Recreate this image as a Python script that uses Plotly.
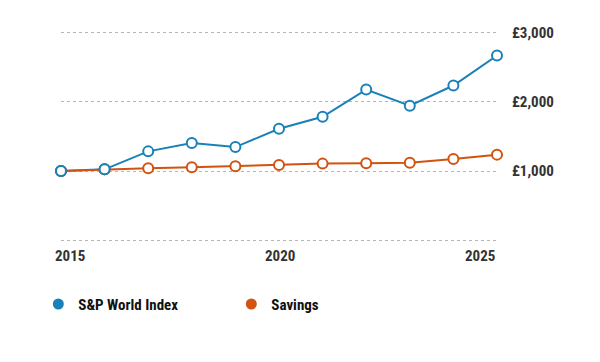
import plotly.graph_objects as go

years = [2015, 2016, 2017, 2018, 2019, 2020, 2021, 2022, 2023, 2024, 2025]
sp_world = [1000, 1025, 1285, 1405, 1347, 1612, 1785, 2179, 1944, 2237, 2670]
savings = [1000, 1025, 1040, 1055, 1070, 1088, 1108, 1112, 1122, 1175, 1238]
y_ticks = [0, 1000, 2000, 3000]
y_labels = ["", "£1,000", "£2,000", "£3,000"]
x_ticks = [2015, 2020, 2025]
x_labels = ["2015", "2020", "2025"]
names = ["S&P World Index", "Savings"]

BLUE = "#1a80b8"
ORANGE = "#d1530f"
FONT = "Roboto Condensed, Liberation Sans Narrow, Arial Narrow, DejaVu Sans Condensed, Noto Sans"

def cond(s):
    return f'<span style="font-stretch:condensed">{s}</span>' if s else s

def fnt(size=15, color="#333333"):
    return dict(family=FONT, size=size, color=color, weight="bold")

fig = go.Figure()
fig.add_trace(go.Scatter(x=years, y=sp_world, mode="lines+markers", name=names[0],
                         line=dict(color=BLUE, width=2),
                         marker=dict(symbol="circle", size=10, color="white",
                                     line=dict(color=BLUE, width=2)),
                         cliponaxis=False, showlegend=False))
fig.add_trace(go.Scatter(x=years, y=savings, mode="lines+markers", name=names[1],
                         line=dict(color=ORANGE, width=2),
                         marker=dict(symbol="circle", size=10, color="white",
                                     line=dict(color=ORANGE, width=2)),
                         cliponaxis=False, showlegend=False))
fig.add_trace(go.Scatter(x=years[:2], y=sp_world[:2], mode="markers",
                         marker=dict(symbol="circle", size=10, color="white",
                                     line=dict(color=BLUE, width=2)),
                         cliponaxis=False, showlegend=False, hoverinfo="skip"))
# legend-only entries (filled dots)
for nm, col in zip(names, [BLUE, ORANGE]):
    fig.add_trace(go.Scatter(x=[None], y=[None], mode="markers", name=cond(nm),
                             marker=dict(symbol="circle", size=11, color=col)))

for xv, lab in zip(x_ticks, x_labels):
    if xv == x_ticks[0]:
        anchor, shift = "left", -8
    elif xv == x_ticks[-1]:
        anchor, shift = "right", 0
    else:
        anchor, shift = "center", 1
    fig.add_annotation(x=xv, y=0, xref="x", yref="paper", text=cond(lab), showarrow=False,
                       xanchor=anchor, yanchor="top", yshift=-3, xshift=shift,
                       font=fnt(15))

fig.update_layout(
    width=592, height=354,
    margin=dict(l=53, r=103, t=23, b=120, autoexpand=False),
    paper_bgcolor="white", plot_bgcolor="white",
    font=fnt(15),
    xaxis=dict(range=[2015, 2025], showgrid=False, zeroline=False, showline=False,
               showticklabels=False, ticks="", automargin=False),
    yaxis=dict(range=[-25, 3025], side="right", tickvals=y_ticks,
               ticktext=[cond(t) for t in y_labels],
               showgrid=True, gridcolor="#b5b5b5", griddash="dot", gridwidth=1,
               zeroline=False, showline=False, ticks="", ticklabelstandoff=14,
               automargin=False, tickfont=fnt(15)),
    legend=dict(orientation="h", x=-0.052, y=-0.295, xanchor="left", yanchor="middle",
                xref="paper", entrywidth=148, entrywidthmode="pixels",
                font=fnt(15, "#111111"), itemwidth=30, tracegroupgap=0),
    showlegend=True,
    hovermode=False,
)

fig.write_html("out.html")
